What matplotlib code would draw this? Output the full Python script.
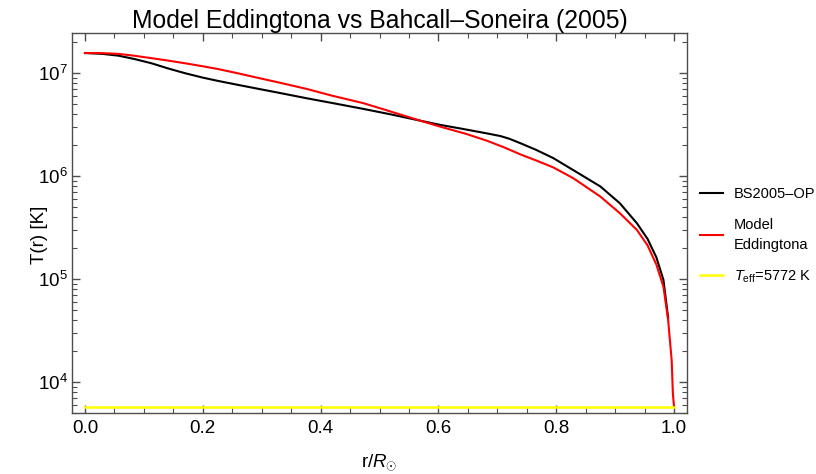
import matplotlib
matplotlib.use("Agg")
import matplotlib.pyplot as plt
from matplotlib.ticker import LogLocator, MultipleLocator, NullFormatter

plt.rcParams['font.family'] = ['Liberation Sans', 'DejaVu Sans']
plt.rcParams['mathtext.fontset'] = 'custom'
plt.rcParams['mathtext.rm'] = 'Liberation Sans'
plt.rcParams['mathtext.it'] = 'Liberation Sans:italic'
plt.rcParams['mathtext.bf'] = 'Liberation Sans:bold'

# BS2005-OP standard solar model
r_bs = [0.0, 0.03, 0.057, 0.085, 0.113, 0.140, 0.170, 0.200, 0.226, 0.260, 0.289, 0.330,
        0.376, 0.420, 0.473, 0.520, 0.569, 0.603, 0.640, 0.682, 0.705, 0.720, 0.739,
        0.765, 0.795, 0.838, 0.875, 0.908, 0.937, 0.955, 0.970, 0.982, 0.990]
T_bs = [1.56e7, 1.53e7, 1.47e7, 1.36e7, 1.24e7, 1.11e7, 9.93e6, 9.0e6, 8.36e6, 7.65e6, 7.10e6, 6.40e6,
        5.68e6, 5.10e6, 4.47e6, 3.95e6, 3.44e6, 3.13e6, 2.87e6, 2.59e6, 2.44e6, 2.30e6, 2.08e6,
        1.80e6, 1.49e6, 1.06e6, 7.9e5, 5.43e5, 3.47e5, 2.45e5, 1.62e5, 9.8e4, 4.2e4]

# Eddington model
r_ed = [0.0, 0.03, 0.057, 0.085, 0.113, 0.140, 0.170, 0.200, 0.226, 0.260, 0.289, 0.330,
        0.376, 0.420, 0.473, 0.520, 0.569, 0.603, 0.648, 0.682, 0.710, 0.739, 0.765,
        0.795, 0.829, 0.875, 0.908, 0.937, 0.955, 0.970, 0.982, 0.990, 0.996, 0.998, 1.0]
T_ed = [1.56e7, 1.555e7, 1.53e7, 1.465e7, 1.39e7, 1.32e7, 1.24e7, 1.16e7, 1.09e7, 9.9e6, 9.08e6, 8.05e6,
        7.00e6, 6.0e6, 5.08e6, 4.2e6, 3.44e6, 3.01e6, 2.55e6, 2.20e6, 1.91e6, 1.62e6, 1.42e6,
        1.21e6, 9.5e5, 6.3e5, 4.35e5, 2.99e5, 2.12e5, 1.38e5, 8.41e4, 3.98e4, 1.62e4, 7.76e3, 5.77e3]

# Effective temperature line
r_eff = [0.0, 1.0]
T_eff = [5772, 5772]

x_ticks = [0.0, 0.2, 0.4, 0.6, 0.8, 1.0]
x_ticklabels = ['0.0', '0.2', '0.4', '0.6', '0.8', '1.0']

fig = plt.figure(figsize=(8.16, 4.74), dpi=100)
ax = fig.add_axes([72/816, 61/474, 615/816, 380/474])

l1, = ax.plot(r_bs, T_bs, color='black', lw=1.5, label='BS2005\u2013OP')
l2, = ax.plot(r_ed, T_ed, color='#ff0000', lw=1.5, label='Model\nEddingtona')
l3, = ax.plot(r_eff, T_eff, color='#ffff00', lw=1.8, label=r'$T_{\rm eff}$=5772 K')

ax.set_yscale('log')
ax.set_xlim(-0.022, 1.022)
ax.set_ylim(5000, 2.44e7)
ax.set_xticks(x_ticks)
ax.set_xticklabels(x_ticklabels)
ax.xaxis.set_minor_locator(MultipleLocator(0.05))
ax.yaxis.set_major_locator(LogLocator(base=10, numticks=10))
ax.yaxis.set_minor_locator(LogLocator(base=10, subs=range(2, 10), numticks=20))
ax.yaxis.set_minor_formatter(NullFormatter())

spine_c = '0.3'
for s in ax.spines.values():
    s.set_color(spine_c)
    s.set_linewidth(1.0)
ax.tick_params(which='both', direction='in', top=True, right=True, color=spine_c,
               labelsize=13.5, labelcolor='black')
ax.tick_params(which='major', length=6, width=1.0)
ax.tick_params(which='minor', length=3.5, width=0.8)
ax.tick_params(axis='y', pad=3)
ax.tick_params(axis='x', pad=5)

ax.set_title('Model Eddingtona vs Bahcall\u2013Soneira (2005)', fontsize=17.8, pad=2)
fig.text(40/816, 1 - 235/474, 'T(r) [K]', fontsize=13.5, rotation=90,
         ha='center', va='center')
ax.set_xlabel(r'r/$R_{\odot}$', fontsize=13.5, labelpad=11)

leg = fig.legend(handles=[l1, l2, l3], loc='center left',
                 bbox_to_anchor=(700/816, 1 - 236/474), frameon=False, fontsize=10.5,
                 handlelength=1.6, handletextpad=0.7, labelspacing=1.15,
                 borderpad=0, borderaxespad=0)
leg.get_texts()[1].set_linespacing(1.55)

fig.savefig('out.png', dpi=100)
